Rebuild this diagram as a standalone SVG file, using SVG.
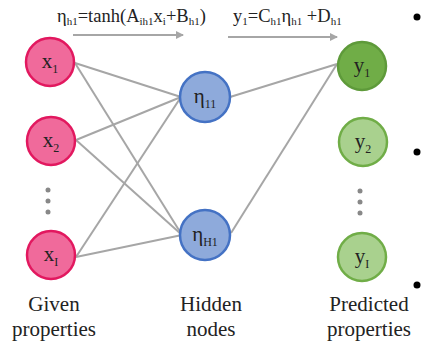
<svg xmlns="http://www.w3.org/2000/svg" width="423" height="348" viewBox="0 0 423 348">
<style>
.lbl{font-size:21px;text-anchor:middle}
.sub{font-size:12px}
.f{font-size:18.5px}
.fs{font-size:11px}
.x{fill:#f06a9b;stroke:#e2185f;stroke-width:2.5}
.h{fill:#8eaadb;stroke:#4472c4;stroke-width:2.5}
.y1{fill:#70ad47;stroke:#5e9a3a;stroke-width:2.5}
.y{fill:#a9d18e;stroke:#70ad47;stroke-width:2.5}
.c line{stroke:#a6a6a6;stroke-width:2}
.dot{fill:#888}
</style>
<defs>
<marker id="ah" markerWidth="8" markerHeight="8" refX="7" refY="4" orient="auto" markerUnits="userSpaceOnUse">
<path d="M0,0 L8,4 L0,8 z" fill="#a6a6a6"/>
</marker>
</defs>
<rect width="423" height="348" fill="#fff"/>
<g id="connectors" class="c">
<line x1="75" y1="63" x2="181" y2="97"/>
<line x1="75" y1="63" x2="182" y2="235"/>
<line x1="76" y1="140" x2="181" y2="97"/>
<line x1="76" y1="140" x2="182" y2="235"/>
<line x1="76" y1="257" x2="181" y2="97"/>
<line x1="76" y1="257" x2="182" y2="235"/>
<line x1="230" y1="97" x2="337" y2="64"/>
<line x1="231" y1="233" x2="337" y2="64"/>
<line x1="73" y1="35" x2="183" y2="35" marker-end="url(#ah)"/>
<line x1="228" y1="37" x2="337" y2="37" marker-end="url(#ah)"/>
</g>
<g font-family="Liberation Serif, serif" fill="#222">
<g id="formula1">
<text class="f" x="57" y="22">η<tspan class="fs" dy="3">h1</tspan><tspan dy="-3">=tanh(A</tspan><tspan class="fs" dy="3">ih1</tspan><tspan dy="-3">x</tspan><tspan class="fs" dy="3">i</tspan><tspan dy="-3">+B</tspan><tspan class="fs" dy="3">h1</tspan><tspan dy="-3">)</tspan></text>
</g>
<g id="formula2">
<text class="f" x="233" y="22">y<tspan class="fs" dy="3">1</tspan><tspan dy="-3">=C</tspan><tspan class="fs" dy="3">h1</tspan><tspan dy="-3">η</tspan><tspan class="fs" dy="3">h1</tspan><tspan dy="-3"> +D</tspan><tspan class="fs" dy="3">h1</tspan></text>
</g>
<g id="x1"><circle class="x" cx="50" cy="62" r="24"/><text class="lbl" x="50" y="68">x<tspan class="sub" dy="5">1</tspan></text></g>
<g id="x2"><circle class="x" cx="51" cy="141" r="24"/><text class="lbl" x="51" y="147">x<tspan class="sub" dy="5">2</tspan></text></g>
<g id="xdots"><circle class="dot" cx="48" cy="190" r="2.5"/><circle class="dot" cx="48" cy="201" r="2.5"/><circle class="dot" cx="48" cy="212" r="2.5"/></g>
<g id="xI"><circle class="x" cx="51" cy="255" r="24"/><text class="lbl" x="51" y="261">x<tspan class="sub" dy="5">I</tspan></text></g>
<g id="h11"><circle class="h" cx="205" cy="97" r="25"/><text class="lbl" x="205" y="103">η<tspan class="sub" dy="5">11</tspan></text></g>
<g id="hH1"><circle class="h" cx="205" cy="235" r="25"/><text class="lbl" x="205" y="241">η<tspan class="sub" dy="5">H1</tspan></text></g>
<g id="y1"><circle class="y1" cx="362" cy="66" r="24"/><text class="lbl" x="362" y="72">y<tspan class="sub" dy="5">1</tspan></text></g>
<g id="y2"><circle class="y" cx="363" cy="142" r="24"/><text class="lbl" x="363" y="148">y<tspan class="sub" dy="5">2</tspan></text></g>
<g id="ydots"><circle class="dot" cx="360" cy="191" r="2.5"/><circle class="dot" cx="360" cy="202" r="2.5"/><circle class="dot" cx="360" cy="213" r="2.5"/></g>
<g id="yI"><circle class="y" cx="362" cy="257" r="24"/><text class="lbl" x="362" y="263">y<tspan class="sub" dy="5">I</tspan></text></g>
<g id="label-given"><text class="lbl" x="54" y="311">Given</text><text class="lbl" x="54" y="336">properties</text></g>
<g id="label-hidden"><text class="lbl" x="211" y="311">Hidden</text><text class="lbl" x="211" y="336">nodes</text></g>
<g id="label-pred"><text class="lbl" x="369" y="311">Predicted</text><text class="lbl" x="369" y="336">properties</text></g>
</g>
<g id="bullets"><circle cx="417" cy="17" r="3.5" fill="#000"/><circle cx="417" cy="152" r="3.5" fill="#000"/><circle cx="417" cy="285" r="3.5" fill="#000"/></g>
</svg>
